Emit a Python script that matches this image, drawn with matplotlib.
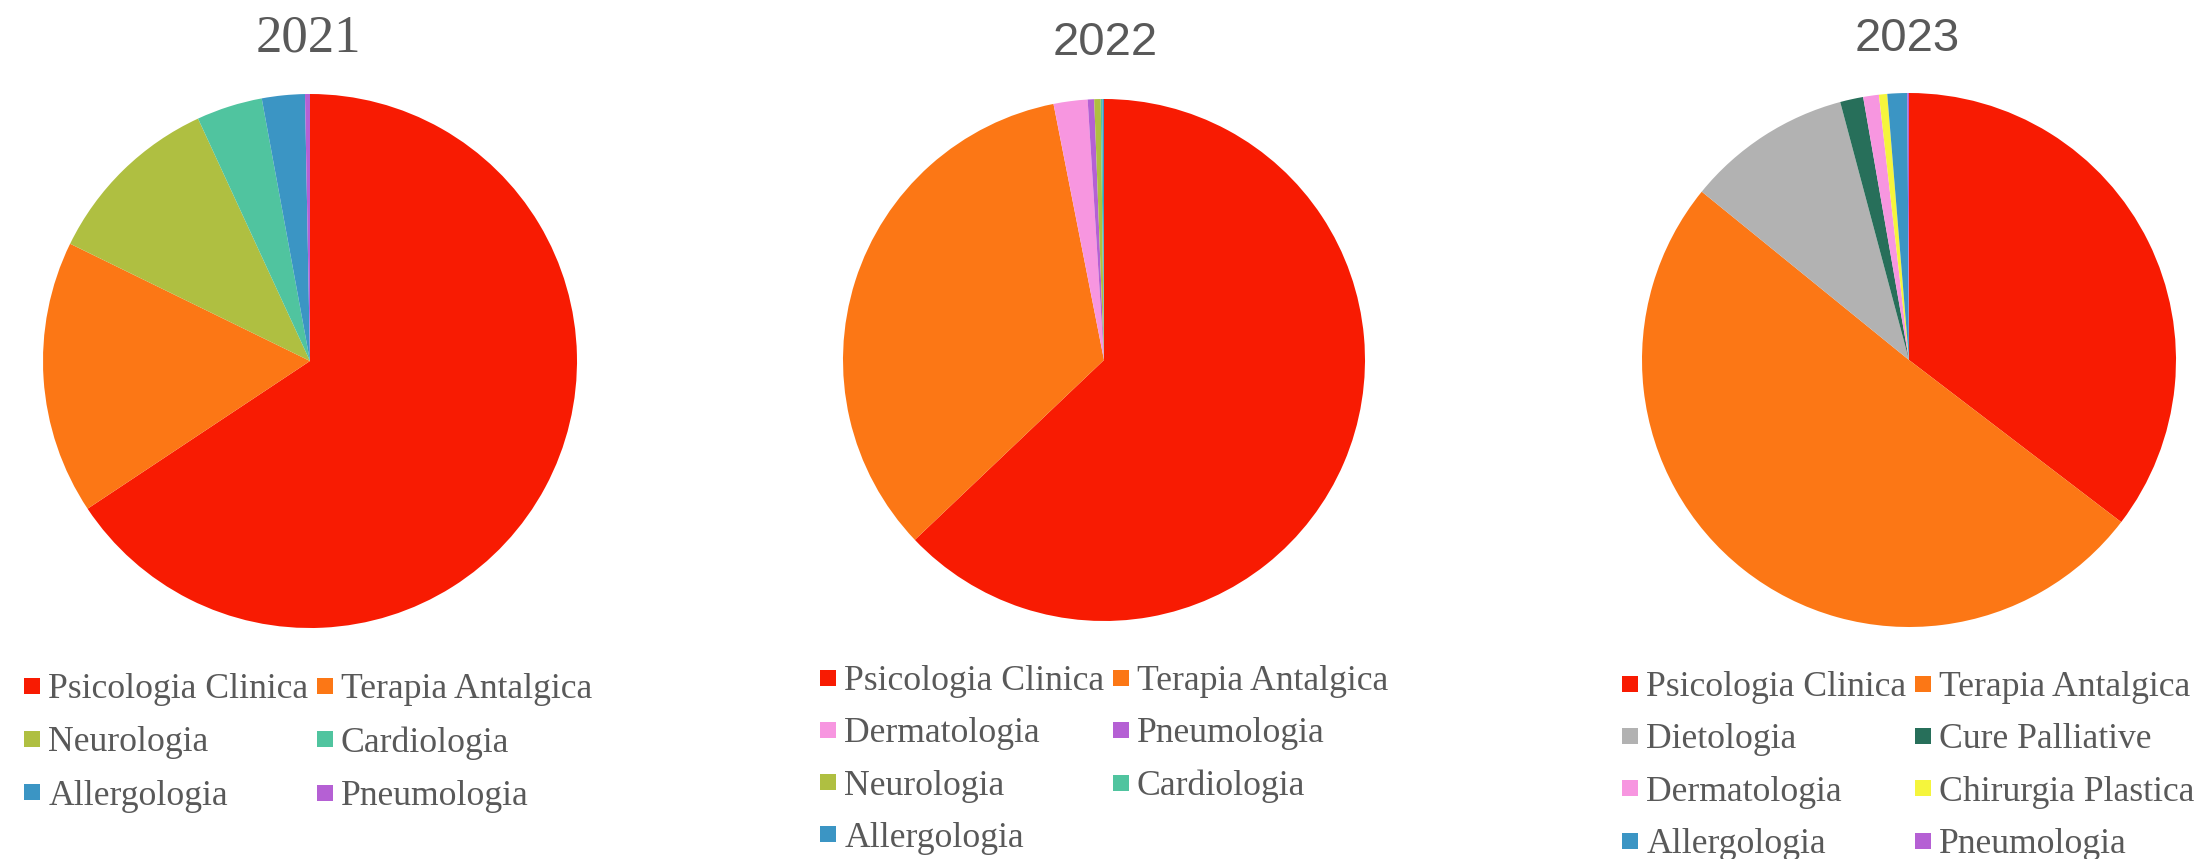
import matplotlib
matplotlib.use("Agg")
import matplotlib.pyplot as plt
from matplotlib.lines import Line2D

W, H = 2197, 859
DPI = 100

# ---------------- data ----------------
years = ["2021", "2022", "2023"]

labels_2021 = ["Psicologia Clinica", "Terapia Antalgica", "Neurologia",
               "Cardiologia", "Allergologia", "Pneumologia"]
values_2021 = [65.8, 16.6, 10.9, 4.0, 2.6, 0.3]

labels_2022 = ["Psicologia Clinica", "Terapia Antalgica", "Dermatologia",
               "Pneumologia", "Neurologia", "Cardiologia", "Allergologia"]
values_2022 = [62.9, 34.0, 2.1, 0.4, 0.4, 0.1, 0.1]

labels_2023 = ["Psicologia Clinica", "Terapia Antalgica", "Dietologia",
               "Cure Palliative", "Dermatologia", "Chirurgia Plastica",
               "Allergologia", "Pneumologia"]
values_2023 = [35.4, 50.5, 10.0, 1.4, 0.95, 0.5, 1.2, 0.1]

# ---------------- style ----------------
colors_map = {
    "Psicologia Clinica": "#F81B02",
    "Terapia Antalgica": "#FC7715",
    "Neurologia": "#AFBF41",
    "Cardiologia": "#50C49F",
    "Allergologia": "#3B95C4",
    "Pneumologia": "#B560D4",
    "Dermatologia": "#F796E0",
    "Dietologia": "#B2B2B2",
    "Cure Palliative": "#276F5A",
    "Chirurgia Plastica": "#F5F53C",
}
TEXT = "#595959"

fig = plt.figure(figsize=(W / DPI, H / DPI), dpi=DPI)
fig.patch.set_facecolor("white")

# pixel layouts: (center x, center y, radius)
pies = [
    (labels_2021, values_2021, (310, 361, 267)),
    (labels_2022, values_2022, (1104, 360, 261)),
    (labels_2023, values_2023, (1909, 360, 267)),
]
title_pos = [(308, 51), (1105, 55), (1907, 51)]   # baseline positions
title_font = [("Liberation Serif", 38), ("Liberation Sans", 34), ("Liberation Sans", 34)]
# (anchor x, anchor top y, fontsize, labelspacing)
legend_anchor = [(23.5, 673, 25.7, 0.57), (819.5, 665, 25.7, 0.54), (1621.5, 671, 25.7, 0.546)]

for i, (labs, vals, (cx, cy, r)) in enumerate(pies):
    ax = fig.add_axes([(cx - r) / W, (H - cy - r) / H, 2 * r / W, 2 * r / H])
    wedges, _ = ax.pie(vals, colors=[colors_map[l] for l in labs],
                       startangle=90, counterclock=False,
                       wedgeprops=dict(linewidth=0))
    ax.set_xlim(-1, 1)
    ax.set_ylim(-1, 1)
    ax.set_axis_off()

    tx, ty = title_pos[i]
    fam, fs = title_font[i]
    fig.text(tx / W, 1 - ty / H, years[i], ha="center", va="baseline",
             color=TEXT, fontsize=fs, family=fam)

    # legend, row-major order with 2 columns
    handles = [Line2D([], [], marker="s", linestyle="", markersize=12.2,
                      markerfacecolor=colors_map[l], markeredgewidth=0)
               for l in labs]
    n = len(labs)
    order = list(range(0, n, 2)) + list(range(1, n, 2))
    lx, ly, lfs, lsp = legend_anchor[i]
    ax.legend([handles[k] for k in order], [labs[k] for k in order],
              ncol=2, loc="upper left",
              bbox_to_anchor=(lx / W, 1 - ly / H),
              bbox_transform=fig.transFigure,
              frameon=False, borderpad=0, borderaxespad=0,
              handlelength=0.5, handletextpad=0.2, columnspacing=0.2,
              labelspacing=lsp,
              prop=dict(family="Liberation Serif", size=lfs),
              labelcolor=TEXT)

fig.savefig("out.png", dpi=DPI, facecolor="white")
